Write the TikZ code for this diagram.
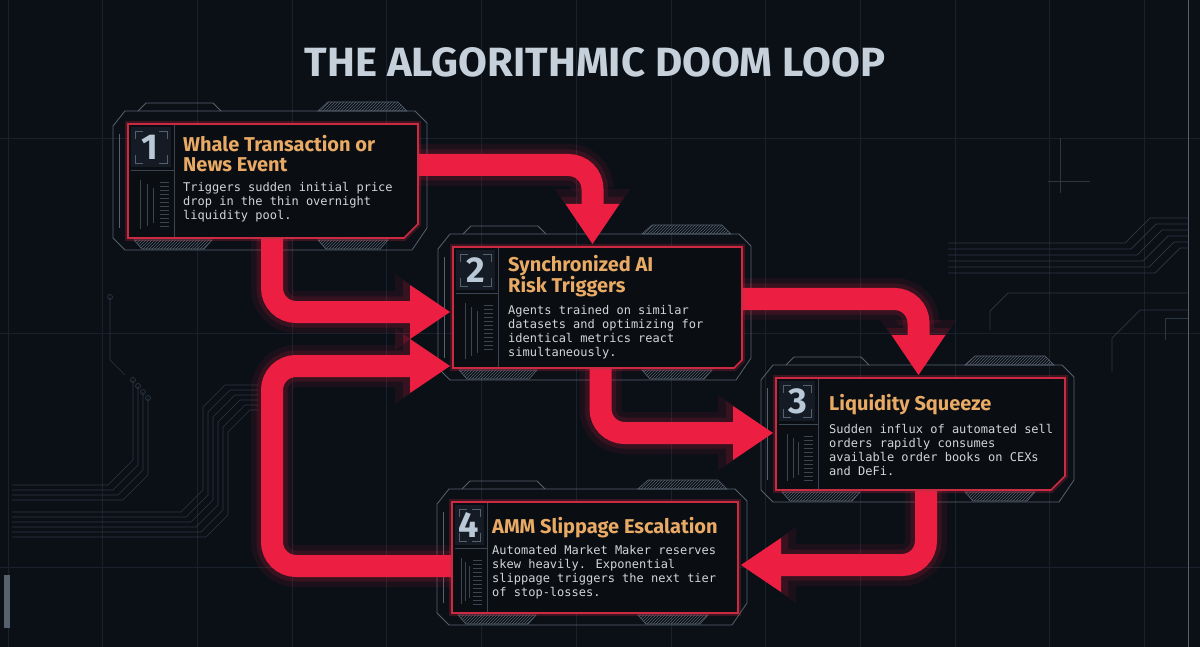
\documentclass[tikz,border=0pt]{standalone}
\usepackage{fontspec}
\setmainfont{Fira Sans}
\newfontfamily\codefont{DejaVu Sans Mono}
\usepackage{tikz}
\usetikzlibrary{arrows.meta, calc, positioning, patterns}

\definecolor{bgnavy}{HTML}{0B1017}
\definecolor{gridline}{HTML}{19222C}
\definecolor{traceline}{HTML}{2B3743}
\definecolor{frameline}{HTML}{56616D}
\definecolor{colgrey}{HTML}{3A4551}
\definecolor{boxfill}{HTML}{0A0D12}
\definecolor{panelfill}{HTML}{141B24}
\definecolor{boxred}{HTML}{CC2A42}
\definecolor{arrowred}{HTML}{EC1F43}
\definecolor{titlegold}{HTML}{E8AA64}
\definecolor{bodygrey}{HTML}{D2D6DA}
\definecolor{steel}{HTML}{C5D0DA}
\definecolor{numsteel}{HTML}{B9C8D6}

\tikzset{
	gridmajor/.style={draw=gridline, line width=0.7pt},
	trace/.style={draw=traceline, line width=0.7pt},
	frame/.style={draw=frameline, line width=0.8pt},
	hatch/.style={draw=frameline, line width=0.6pt, pattern=north east lines, pattern color=frameline},
	colline/.style={draw=colgrey, line width=0.6pt},
	bracket/.style={draw=frameline, line width=0.9pt},
	holder/.style={rectangle, inner sep=0pt, outer sep=0pt},
	boxedge/.style={draw=boxred, line width=1.6pt, fill=boxfill, preaction={draw=boxred, line width=6pt, opacity=0.25}},
	numtext/.style={font=\fontsize{36}{36}\selectfont\bfseries, text=numsteel, inner sep=0pt},
	heading/.style={font=\fontsize{20}{20}\selectfont\bfseries, text=titlegold, align=left, inner sep=0pt, anchor=base west},
	bodytext/.style={font=\codefont\fontsize{12}{14}\selectfont, text=bodygrey, align=left, inner sep=0pt, anchor=base west},
	flow/.style={draw=arrowred, line width=22pt, rounded corners=24pt, shorten >=3pt, -{Triangle[width=54pt, length=40pt, line width=0pt]},
		preaction={draw=arrowred, opacity=0.08, line width=42pt, -{Triangle[width=76pt, length=55pt, line width=0pt]}},
		preaction={draw=arrowred, opacity=0.14, line width=31pt, -{Triangle[width=64pt, length=47pt, line width=0pt]}}},
	maintitle/.style={font=\bfseries, text=steel, inner sep=0pt, anchor=base},
}

% grey outline and hatched tabs behind a panel
\newcommand{\techframe}[1]{%
	\draw[frame] ($(#1.north west)+(-15,2)$) -- ($(#1.north west)+(-3,-13)$) -- ($(#1.north east)+(-3,-13)$) -- ($(#1.north east)+(9,-1)$) -- ($(#1.south east)+(9,-10)$) -- ($(#1.south east)+(-6,12)$) -- ($(#1.south west)+(-3,12)$) -- ($(#1.south west)+(-15,0)$) -- cycle;
	\draw[hatch] ($(#1.north east)+(-100,-13)$) -- ($(#1.north east)+(-90,-22)$) -- ($(#1.north east)+(-20,-22)$) -- ($(#1.north east)+(-11,-13)$) -- cycle;
	\draw[frame] ($(#1.north west)+(10,-13)$) -- ($(#1.north west)+(18,-21)$) -- ($(#1.north west)+(85,-21)$) -- ($(#1.north west)+(93,-13)$);
	\draw[hatch] ($(#1.south west)+(6,2)$) -- ($(#1.south west)+(84,2)$) -- ($(#1.south west)+(76,11)$) -- ($(#1.south west)+(14,11)$) -- cycle;
	\draw[hatch] ($(#1.south east)+(-100,2)$) -- ($(#1.south east)+(-30,2)$) -- ($(#1.south east)+(-38,11)$) -- ($(#1.south east)+(-92,11)$) -- cycle;
	\draw[frame] ($(#1.north west)+(-9,10)$) -- ($(#1.south west)+(-9,-10)$);
}

% red panel with number column: name, column width, chamfer
\newcommand{\panelbox}[3]{%
	\draw[boxedge] (#1.north west) -- (#1.north east) -- ($(#1.south east)+(0,-#3)$) -- ($(#1.south east)+(-#3,0)$) -- (#1.south west) -- cycle;
	\fill[panelfill] ($(#1.north west)+(3,3)$) rectangle ($(#1.north west)+(#2-3,43)$);
	\draw[bracket] ($(#1.north west)+(7,15)$) -- ($(#1.north west)+(7,7)$) -- ($(#1.north west)+(15,7)$);
	\draw[bracket] ($(#1.north west)+(#2-15,7)$) -- ($(#1.north west)+(#2-7,7)$) -- ($(#1.north west)+(#2-7,15)$);
	\draw[bracket] ($(#1.north west)+(7,31)$) -- ($(#1.north west)+(7,39)$) -- ($(#1.north west)+(15,39)$);
	\draw[bracket] ($(#1.north west)+(#2-15,39)$) -- ($(#1.north west)+(#2-7,39)$) -- ($(#1.north west)+(#2-7,31)$);
	\draw[colline] ($(#1.north west)+(#2,1)$) -- ($(#1.south west)+(#2,-1)$);
	\draw[colline] ($(#1.north west)+(3,46)$) -- ($(#1.north west)+(#2,46)$);
	\foreach \k in {1,...,3}
		\draw[colline] ($(#1.north west)+({6+\k*(#2-20)/4},{52+4*\k})$) -- ($(#1.south west)+({6+\k*(#2-20)/4},{-6-3*\k})$);
	\foreach \k in {0,...,11}
		\draw[colline] ($(#1.north west)+({#2-14},{58+4*\k})$) -- ++(9,0);
}

\begin{document}
\begin{tikzpicture}[x=1pt, y=-1pt]
	\fill[bgnavy] (0,0) rectangle (1200,647);
	\useasboundingbox (0,0) rectangle (1200,647);

	% background grid and traces
	\foreach \gx in {8,102.7,...,1200}
		\draw[gridmajor] (\gx,0) -- (\gx,647);
	\foreach \gy in {138,333,567}
		\draw[gridmajor] (0,\gy) -- (1200,\gy);
	\draw[frame] (1188,0) -- (1188,647);
	\fill[frameline] (4,575) rectangle (10,628);
	\foreach \i in {0,...,3}
		\draw[trace] (12,{485+5*\i}) -- ({108+5*\i},{485+5*\i}) -- ({133+5*\i},{460+5*\i}) -- ({133+5*\i},{380+6*\i}) circle (2.5);
	\foreach \i in {0,...,5}
		\draw[trace] (12,{512+5*\i}) -- ({181+5*\i},{512+5*\i}) -- ({203+5*\i},{490+5*\i}) -- ({203+5*\i},{407+5*\i}) -- ({225+5*\i},{385+5*\i}) -- (258,{385+5*\i});
	\draw[trace] (110,297) circle (2.5) -- (110,360) -- (125,375);
	\foreach \i in {0,...,5}
		\draw[trace] (1188,{218+6*\i}) -- ({1150+6*\i},{218+6*\i}) -- ({1125+6*\i},{243+6*\i}) -- (948,{243+6*\i});
	\draw[trace] (1188,293) -- (1008,293) -- (990,311) -- (990,330);
	\draw[trace] (1188,318) -- (1165,318) -- (1165,340);
	\draw[trace] (1188,310) -- (1140,310) -- (1112,338) -- (1112,372);
	\draw[trace] (1060,138) -- (1060,193);
	\draw[trace] (1048,181) -- (1090,181);

	% panels
	\node[holder, minimum width=290pt, minimum height=114pt] (b1) at (273,181) {};
	\node[holder, minimum width=289pt, minimum height=121pt] (b2) at (597.5,307.5) {};
	\node[holder, minimum width=289pt, minimum height=112pt] (b3) at (920.5,434) {};
	\node[holder, minimum width=286pt, minimum height=111pt] (b4) at (595,557.5) {};
	\techframe{b1}
	\techframe{b2}
	\techframe{b3}
	\techframe{b4}

	\node[maintitle] (title) at (595,77) {\resizebox{580pt}{29pt}{THE ALGORITHMIC DOOM LOOP}};

	% the loop
	\coordinate (loopx) at (272,460);
	\draw[flow] ([yshift=16pt]b1.east) -| ([xshift=-5pt]b2.north);
	\draw[flow] ([xshift=-1pt]b1.south) |- ([yshift=-4.5pt]b2.west);
	\draw[flow] ([yshift=8.5pt]b2.east) -| ([xshift=-2pt]b3.north);
	\draw[flow] ([xshift=3pt]b2.south) |- ([yshift=1pt]b3.west);
	\draw[flow] ([xshift=5.5pt]b3.south) |- ([yshift=-7.5pt]b4.east);
	\draw[flow] ([yshift=-8.5pt]b4.west) -| (loopx) |- ([yshift=-58.5pt]b2.west);

	\panelbox{b1}{46}{14}
	\panelbox{b2}{45}{8}
	\panelbox{b3}{42}{14}
	\panelbox{b4}{35}{0}

	\node[numtext] (n1) at ($(b1.north west)+(22,23)$) {1};
	\node[heading] (t1) at ($(b1.north west)+(55,48)$) {Whale Transaction or\\News Event};
	\node[bodytext] (d1) at ($(b1.north west)+(55,96)$) {Triggers sudden initial price\\drop in the thin overnight\\liquidity pool.};

	\node[numtext] (n2) at ($(b2.north west)+(23,23)$) {2};
	\node[heading] (t2) at ($(b2.north west)+(55,46)$) {Synchronized AI\\Risk Triggers};
	\node[bodytext] (d2) at ($(b2.north west)+(55,109)$) {Agents trained on similar\\datasets and optimizing for\\identical metrics react\\simultaneously.};

	\node[numtext] (n3) at ($(b3.north west)+(22,23.5)$) {3};
	\node[heading] (t3) at ($(b3.north west)+(53,32)$) {Liquidity Squeeze};
	\node[bodytext] (d3) at ($(b3.north west)+(53,97)$) {Sudden influx of automated sell\\orders rapidly consumes\\available order books on CEXs\\and DeFi.};

	\node[numtext] (n4) at ($(b4.north west)+(17,23)$) {4};
	\node[heading] (t4) at ($(b4.north west)+(40,31)$) {AMM Slippage Escalation};
	\node[bodytext] (d4) at ($(b4.north west)+(40,94)$) {Automated Market Maker reserves\\skew heavily. Exponential\\slippage triggers the next tier\\of stop-losses.};
\end{tikzpicture}
\end{document}
